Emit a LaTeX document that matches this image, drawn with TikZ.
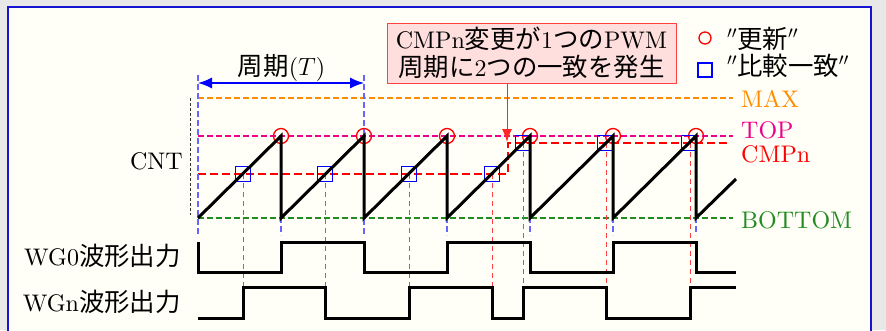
\documentclass[tikz,border=0pt]{standalone}
\usepackage{fontspec}
\setmainfont{lmroman10-regular.otf}
\newfontfamily\cjk[Scale=1.06]{Noto Sans CJK JP}
\usetikzlibrary{arrows.meta,calc}
\definecolor{bgout}{RGB}{232,232,232}
\definecolor{bgin}{RGB}{255,255,247}
\definecolor{maxc}{RGB}{255,140,0}
\definecolor{botc}{RGB}{34,139,34}
\definecolor{boxfill}{RGB}{255,222,222}
\definecolor{framec}{RGB}{20,20,210}
\tikzset{
  lbl/.style={font=\fontsize{24}{28}\selectfont, inner sep=0pt},
  levelline/.style={line width=1.3pt, dash pattern=on 6pt off 3pt},
  bluev/.style={blue!60, line width=1.2pt, dash pattern=on 6pt off 3pt},
  redv/.style={red!75, line width=1pt, dash pattern=on 5pt off 4pt},
  wave/.style={black, line width=3pt},
  updmark/.style={red, line width=1.3pt},
  cmpmark/.style={blue, line width=1.3pt},
}
\begin{document}
\begin{tikzpicture}[x=1pt, y=-1pt]
\useasboundingbox (0,0) rectangle (886,330);
\fill[bgout] (0,0) rectangle (886,330);
\fill[bgin] (8,7) rectangle (871,345);
\draw[framec, line width=2pt] (8,7) rectangle (871,345);

% level lines
\draw[levelline, maxc] (198,98) -- (733,98);
\draw[levelline, magenta] (198,136) -- (733,136);
\draw[levelline, botc] (198,218) -- (733,218);
\draw[red, line width=2.5pt, dash pattern=on 8pt off 4pt] (198,174) -- (508,174) -- (508,143) -- (730,143);

% level labels
\node[lbl, anchor=base west, text=maxc] (lmax) at (741,107) {MAX};
\node[lbl, anchor=base west, text=magenta] (ltop) at (741,138) {TOP};
\node[lbl, anchor=base west, text=red] (lcmp) at (741,162) {CMPn};
\node[lbl, anchor=base west, text=botc] (lbot) at (741,228) {BOTTOM};

% CNT axis
\draw[black!80, line width=1pt, dash pattern=on 3pt off 2pt] (190,98) -- (190,215);
\node[lbl, anchor=base east] (lcnt) at (183,169) {CNT};
\node[lbl, anchor=base east] (lwg0) at (181,265) {WG0{\cjk 波形出力}};
\node[lbl, anchor=base east] (lwgn) at (181,311) {WGn{\cjk 波形出力}};

% blue dashed verticals
\draw[bluev] (198,75) -- (198,235);
\draw[bluev] (364,75) -- (364,235);
\foreach \x in {281,447,530,613,696} \draw[bluev] (\x,136) -- (\x,235);

% red dashed verticals
\foreach \x in {243,325,409,492} \draw[redv] (\x,174) -- (\x,287);
\foreach \x in {523,606,690} \draw[redv] (\x,143) -- (\x,287);

% markers
\foreach \x in {281,364,447,530,613,696} \draw[updmark] (\x,136) circle[radius=7.5pt];
\foreach \x in {243,325,409,492} \draw[cmpmark] (\x-7.5,166.5) rectangle (\x+7.5,181.5);
\foreach \x in {523,605,689} \draw[cmpmark] (\x-7.5,135.5) rectangle (\x+7.5,150.5);

% sawtooth
\draw[wave] (198,218) -- (281,136) -- (281,218) -- (364,136) -- (364,218) -- (447,136) -- (447,218)
  -- (530,136) -- (530,218) -- (613,136) -- (613,218) -- (696,136) -- (696,218) -- (736,179);

% WG0
\draw[wave] (198,242) -- (198,272) -- (281,272) -- (281,242) -- (364,242) -- (364,272) -- (447,272)
  -- (447,242) -- (530,242) -- (530,272) -- (613,272) -- (613,242) -- (696,242) -- (696,272) -- (736,272);

% WGn
\draw[wave] (198,318) -- (243,318) -- (243,287) -- (325,287) -- (325,318) -- (409,318) -- (409,287)
  -- (492,287) -- (492,318) -- (523,318) -- (523,287) -- (606,287) -- (606,318) -- (690,318)
  -- (690,287) -- (736,287);

% period
\coordinate (pA) at (198,83);
\coordinate (pB) at (364,83);
\draw[blue, line width=1.3pt, {Latex[length=14pt,width=11pt]}-{Latex[length=14pt,width=11pt]}] (pA) -- (pB);
\node[lbl, anchor=base] (lper) at (281.5,75) {{\cjk 周期}($T$)};

% callout
\node[lbl, draw=red!75, line width=1pt, fill=boxfill, minimum width=289pt, minimum height=60pt, align=center]
  (callout) at (531.5,53) {CMPn{\cjk 変更が}1{\cjk つの}PWM\\{\cjk 周期に}2{\cjk つの一致を発生}};
\coordinate (ctip) at (507,142);
\draw[red!85, line width=1pt, -{Latex[length=13pt,width=10pt]}] (callout.south -| ctip) -- (ctip);

% legend
\draw[updmark] (705,38) circle[radius=6pt];
\coordinate (lgsq) at (705,70);
\draw[cmpmark] ($(lgsq)+(-7,-7)$) rectangle ($(lgsq)+(7,7)$);
\node[lbl, anchor=base west] (lg1) at (727,48) {$''${\cjk 更新}$''$};
\node[lbl, anchor=base west] (lg2) at (727,75) {$''${\cjk 比較一致}$''$};
\end{tikzpicture}
\end{document}
